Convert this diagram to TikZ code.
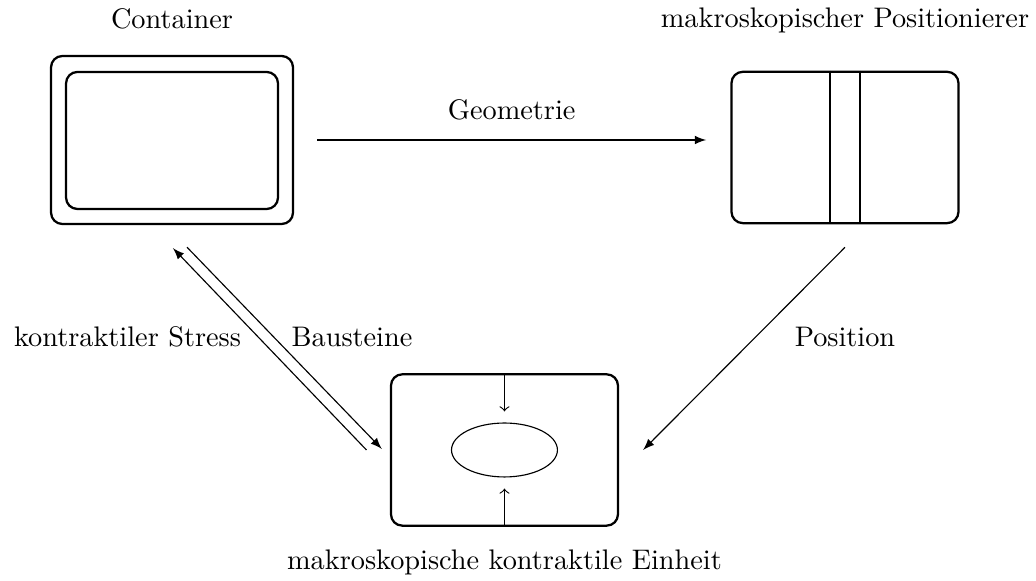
\documentclass[tikz,border=0pt]{standalone}
\usepackage{tikz}
\usetikzlibrary{positioning,calc,shapes.geometric}

\begin{document}
\begin{tikzpicture}[
        box/.style={draw,thick,rounded corners,inner sep=0pt,minimum width=2.82cm,minimum height=1.88cm},
        lbl/.style={anchor=base}]
        \useasboundingbox (0,0) rectangle (12.87,7.217);

        \node[box,minimum width=3.006cm,minimum height=2.087cm] at (2.137,5.478) (C) {};
        \node[box,minimum width=2.633cm,minimum height=1.702cm] at (2.137,5.472) (Ci) {};
        \node[box] at (10.497,5.385) (P) {};
        \node[box] at (6.267,1.627) (E) {};
        \node[draw,ellipse,inner sep=0pt,minimum width=1.316cm,minimum height=0.67cm] at (E) (K) {};

        \draw ($(P.north)+(-0.186,0)$) -- ($(P.south)+(-0.186,0)$);
        \draw ($(P.north)+(0.186,0)$) -- ($(P.south)+(0.186,0)$);
        \draw[->,shorten >=0.137cm] (E.north) -- (K.north);
        \draw[->,shorten >=0.137cm] (E.south) -- (K.south);

        \node[lbl] at (2.137,6.869) (tC) {Container};
        \node[lbl] at (10.497,6.875) (tP) {makroskopischer Positionierer};
        \node[lbl] at (6.267,0.137) (tE) {makroskopische kontraktile Einheit};

        \coordinate (g1) at ($(C.east)+(0.285,0)$);
        \coordinate (g2) at ($(g1 -| P.west)+(-0.3,0)$);
        \draw[-latex] (g1) -- node[above=3.4pt]{Geometrie} (g2);

        \draw[-latex] ($(E.west)+(-0.29,0)$) -- ($(C.south)+(0.012,-0.286)$);
        \draw[-latex] ($(C.south)+(0.186,-0.274)$) -- ($(E.west)+(-0.1,0.013)$);
        \draw[-latex] ($(P.south)+(0,-0.286)$) -- ($(E.east)+(0.298,0)$);

        \node[lbl] at (1.584,2.907) (tS) {kontraktiler Stress};
        \node[lbl] at (4.373,2.907) (tB) {Bausteine};
        \node[lbl] at (10.497,2.907) (tPos) {Position};
      \end{tikzpicture}
\end{document}
